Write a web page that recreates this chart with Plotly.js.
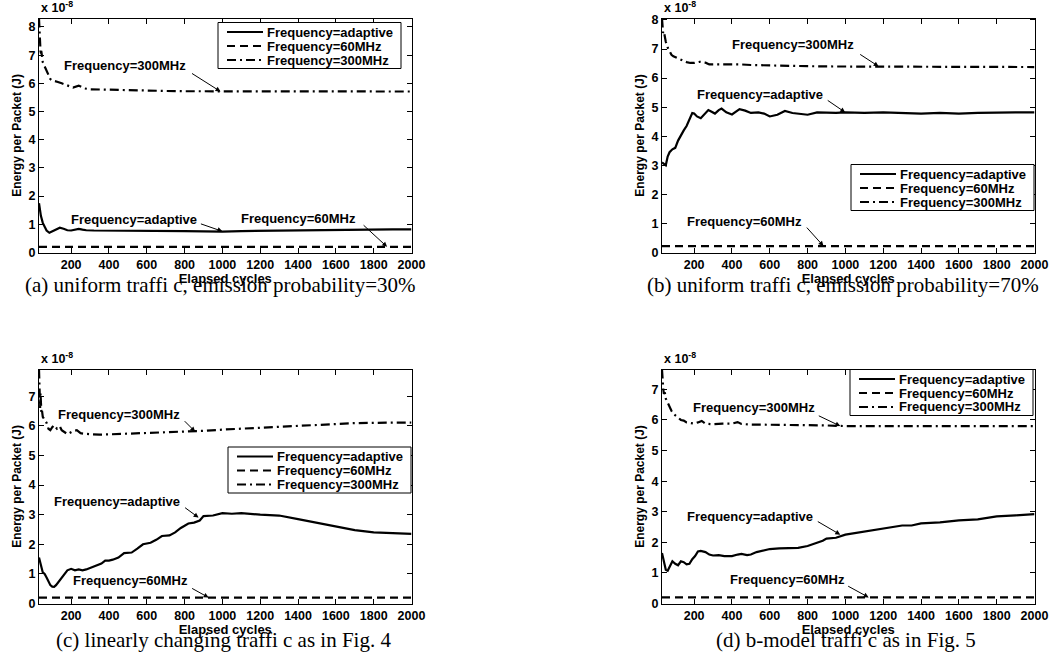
<!DOCTYPE html>
<html><head><meta charset="utf-8">
<script src="https://cdn.plot.ly/plotly-3.0.1.min.js"></script>
<style>html,body{margin:0;padding:0;background:#fff}#chart{width:1053px;height:652px}</style>
</head><body><div id="chart"></div>
<script>
// ---------- data (values ×1e-8 J) ----------
const xTicks = [200,400,600,800,1000,1200,1400,1600,1800,2000];
const seriesNames = ['Frequency=adaptive','Frequency=60MHz','Frequency=300MHz'];
const captions = ['(a) uniform traffi c, emission probability=30%','(b) uniform traffi c, emission probability=70%','(c) linearly changing traffi c as in Fig. 4','(d) b-model traffi c as in Fig. 5'];
const yMax = [8.3, 8.05, 7.9, 7.65];
const x60 = [30, 2000];
const y60 = [[0.2,0.2],[0.22,0.22],[0.2,0.2],[0.2,0.2]];

const aXAdapt = [30,35,40,50,60,70,85,100,120,140,160,180,200,220,240,260,280,320,360,400,450,500,550,600,700,800,900,1000,1100,1200,1300,1400,1500,1600,1700,1800,1900,2000];
const aYAdapt = [1.75,1.5,1.3,1.05,0.9,0.78,0.7,0.75,0.82,0.88,0.84,0.79,0.78,0.8,0.84,0.81,0.79,0.78,0.78,0.77,0.76,0.77,0.78,0.77,0.76,0.76,0.75,0.74,0.76,0.77,0.78,0.79,0.8,0.8,0.81,0.81,0.82,0.82];
const aX300 = [30,33,36,39,42,46,50,60,70,80,90,100,115,130,150,170,190,210,240,270,300,350,400,500,600,700,800,900,1000,1200,1400,1600,1800,2000];
const aY300 = [8.3,7.8,7.3,7.0,7.15,6.85,6.75,6.6,6.45,6.3,6.15,6.1,6.08,6.05,6.0,5.95,5.88,5.85,5.92,5.82,5.79,5.78,5.77,5.76,5.74,5.73,5.72,5.72,5.71,5.72,5.72,5.72,5.71,5.71];

const bXAdapt = [30,40,50,60,70,85,100,115,130,145,160,175,190,200,215,235,255,275,290,310,330,345,370,400,440,470,500,540,570,600,640,680,720,760,800,850,900,950,1000,1100,1200,1300,1400,1500,1600,1700,1800,1900,2000];
const bYAdapt = [3.1,3.05,3.0,3.3,3.45,3.55,3.6,3.85,4.05,4.2,4.35,4.6,4.8,4.78,4.68,4.62,4.75,4.9,4.85,4.78,4.9,4.95,4.82,4.75,4.93,4.88,4.8,4.82,4.78,4.68,4.74,4.87,4.8,4.78,4.74,4.82,4.8,4.8,4.82,4.8,4.82,4.8,4.78,4.8,4.78,4.8,4.82,4.82,4.82];
const bX300 = [30,33,36,40,45,50,60,70,80,90,100,120,140,160,180,200,230,260,280,300,350,400,450,500,600,700,800,900,1000,1200,1400,1600,1800,2000];
const bY300 = [8.05,7.7,7.55,7.6,7.35,7.25,7.05,6.9,6.8,6.75,6.72,6.68,6.62,6.55,6.52,6.52,6.56,6.53,6.47,6.47,6.47,6.48,6.47,6.45,6.43,6.42,6.41,6.4,6.4,6.4,6.4,6.39,6.38,6.38];

const cXAdapt = [30,35,40,50,60,70,80,90,100,110,120,140,160,180,200,220,240,260,280,300,330,360,380,400,420,450,480,520,550,580,620,650,680,720,750,780,820,850,880,900,950,1000,1050,1100,1200,1300,1400,1500,1600,1700,1800,1900,2000];
const cYAdapt = [1.55,1.45,1.3,1.05,1.0,0.88,0.75,0.62,0.57,0.56,0.62,0.78,0.95,1.12,1.17,1.12,1.15,1.12,1.15,1.2,1.3,1.35,1.45,1.45,1.48,1.55,1.7,1.72,1.85,2.0,2.05,2.15,2.28,2.3,2.4,2.55,2.7,2.73,2.8,2.95,2.97,3.05,3.03,3.05,3.0,2.97,2.85,2.72,2.6,2.48,2.4,2.37,2.35];
const cX300 = [30,32,34,36,38,40,43,46,50,55,60,70,80,90,100,110,125,140,150,165,180,190,210,230,250,270,300,350,400,450,500,600,700,800,900,1000,1100,1200,1300,1400,1500,1600,1700,1800,1900,2000];
const cY300 = [7.9,7.4,7.7,6.6,7.1,6.7,6.4,6.5,6.3,6.25,6.2,6.1,5.9,5.85,5.95,6.02,5.9,5.98,5.85,5.78,5.72,5.75,5.82,5.85,5.75,5.73,5.72,5.7,5.71,5.72,5.73,5.75,5.77,5.8,5.83,5.87,5.9,5.93,5.97,6.0,6.04,6.07,6.09,6.1,6.11,6.11];

const dXAdapt = [30,35,40,50,60,70,85,100,115,130,145,160,175,190,205,220,235,260,280,300,330,360,400,430,450,480,500,530,560,600,650,700,750,800,850,880,900,950,1000,1050,1100,1150,1200,1250,1300,1350,1400,1500,1600,1700,1800,1900,2000];
const dYAdapt = [1.65,1.5,1.35,1.1,1.07,1.2,1.38,1.3,1.25,1.38,1.35,1.28,1.3,1.45,1.55,1.7,1.72,1.68,1.6,1.57,1.58,1.55,1.55,1.6,1.62,1.58,1.6,1.68,1.72,1.78,1.8,1.8,1.82,1.88,1.98,2.05,2.12,2.15,2.25,2.3,2.35,2.38,2.45,2.5,2.55,2.55,2.62,2.65,2.72,2.75,2.85,2.88,2.92];
const dX300 = [30,32,34,37,40,45,50,60,70,80,90,100,115,130,145,160,180,200,220,240,260,300,350,400,430,450,500,600,700,800,900,1000,1200,1400,1600,1800,2000];
const dY300 = [7.65,7.3,7.5,7.0,6.85,6.9,6.7,6.55,6.45,6.3,6.2,6.15,6.1,6.0,5.98,5.92,5.9,5.88,5.92,5.97,5.88,5.86,5.88,5.88,5.93,5.87,5.85,5.85,5.83,5.83,5.82,5.8,5.8,5.8,5.8,5.8,5.8];

// arrow tips (data coords) per panel: [adaptive, 60MHz, 300MHz]
const arrowTipX = [[1000,1871,990],[999,884,1176],[874,927,856],[973,1123,973]];
const arrowTipY = [[0.75,0.2,5.71],[4.82,0.22,6.4],[2.9,0.2,5.8],[2.25,0.2,5.8]];

// ---------- layout geometry (pixels) ----------
const W = 1053, H = 652;
const FONT = 'Liberation Sans, Arial, sans-serif';
const SERIF = 'Liberation Serif, Times New Roman, serif';
const px = v => v / W, py = v => 1 - v / H;
const panels = [
  {xd:[39,411.5], yd:[18.5,252.5]},
  {xd:[662,1034.5], yd:[18.5,252.5]},
  {xd:[39,411.5], yd:[369.5,603.5]},
  {xd:[662,1034.5], yd:[369.5,603.5]}
];
const data = [
  {xa:aXAdapt, ya:aYAdapt, x3:aX300, y3:aY300},
  {xa:bXAdapt, ya:bYAdapt, x3:bX300, y3:bY300},
  {xa:cXAdapt, ya:cYAdapt, x3:cX300, y3:cY300},
  {xa:dXAdapt, ya:dYAdapt, x3:dX300, y3:dY300}
];
const dashes = ['solid','8px,5px','9px,4px,2px,4px'];
// legend boxes [left, top]
const legendPos = [[218,22.5],[851,164.5],[228,447],[850,369.5]];
// text label centers [adaptive, 60MHz, 300MHz] in px
const labelPos = [
  [[134,219.5],[298,218.5],[125,65.5]],
  [[760,94.5],[744,221.5],[793,44.5]],
  [[117,501.5],[130,580.5],[119,414.5]],
  [[750,516],[787,579],[754,407.5]]
];
// arrow tail offsets (px) relative to tip
const arrowOff = [
  [[-23,-8],[-25,-23],[-30,-19]],
  [[-19,-13],[-18,-20],[-20,-13]],
  [[-15,-11],[-18,-10],[-12,-12]],
  [[-24,-14],[-22,-12],[-23,-11]]
];
const captionPos = [[220,285],[843,285],[223,640],[846,640]];

const traces = [], annotations = [], shapes = [];
const layout = {
  width: W, height: H, margin:{l:0,r:0,t:0,b:0},
  paper_bgcolor:'#fff', plot_bgcolor:'#fff', showlegend:false,
  font:{family:FONT, color:'#000'}
};
panels.forEach((p, i) => {
  const n = i === 0 ? '' : String(i+1);
  const xk = 'xaxis'+n, yk = 'yaxis'+n;
  const xr = 'x'+n, yr = 'y'+n;
  const axCommon = {showline:true, linecolor:'#000', linewidth:1, mirror:'ticks', ticks:'inside',
    ticklen:5, tickcolor:'#000', tickwidth:1, showgrid:false, zeroline:false,
    tickfont:{family:FONT, size:12.5, weight:'bold', color:'#000'}};
  layout[xk] = Object.assign({}, axCommon, {domain:[px(p.xd[0]), px(p.xd[1])], anchor:yr,
    range:[30,2000], tickvals:xTicks, ticktext:xTicks.map(String),
    title:{text:'Elapsed cycles', font:{family:FONT,size:13,weight:'bold'}, standoff:0}});
  const yt = [];
  for (let k = 0; k <= Math.floor(yMax[i]); k++) yt.push(k);
  layout[yk] = Object.assign({}, axCommon, {domain:[py(p.yd[1]), py(p.yd[0])], anchor:xr,
    range:[0, yMax[i]], tickvals:yt, ticktext:yt.map(String),
    title:{text:'Energy per Packet (J)', font:{family:FONT,size:12,weight:'bold'}, standoff:4}});
  const d = data[i];
  const xs = [d.xa, x60, d.x3], ys = [d.ya, y60[i], d.y3];
  for (let s = 0; s < 3; s++) {
    traces.push({type:'scatter', mode:'lines', x:xs[s], y:ys[s], xaxis:xr, yaxis:yr,
      name:seriesNames[s], line:{color:'#000', width:2.2, dash:dashes[s]}, hoverinfo:'skip'});
    annotations.push({xref:'paper', yref:'paper', x:px(labelPos[i][s][0]), y:py(labelPos[i][s][1]),
      xanchor:'center', yanchor:'middle', text:seriesNames[s], showarrow:false,
      font:{family:FONT, size:13, weight:'bold', color:'#000'}});
    annotations.push({xref:xr, yref:yr, x:arrowTipX[i][s], y:arrowTipY[i][s], text:'',
      showarrow:true, arrowhead:2, arrowsize:1, arrowwidth:1, arrowcolor:'#000',
      ax:arrowOff[i][s][0], ay:arrowOff[i][s][1]});
  }
  // scale label
  annotations.push({xref:'paper', yref:'paper', x:px(p.xd[0]), y:py(p.yd[0]-1.5), xanchor:'left', yanchor:'bottom',
    text:'x 10<sup>-8</sup>', showarrow:false, font:{family:FONT, size:12.5, weight:'bold'}});
  // legend box
  const [lx, ly] = legendPos[i];
  shapes.push({type:'rect', xref:'paper', yref:'paper', x0:px(lx), x1:px(lx+183), y0:py(ly), y1:py(ly+46),
    line:{color:'#000', width:1}, fillcolor:'#fff', layer:'above'});
  for (let s = 0; s < 3; s++) {
    const yy = ly + 9.5 + s*14;
    shapes.push({type:'line', xref:'paper', yref:'paper', x0:px(lx+9), x1:px(lx+45), y0:py(yy), y1:py(yy),
      line:{color:'#000', width:2, dash:dashes[s]}, layer:'above'});
    annotations.push({xref:'paper', yref:'paper', x:px(lx+47), y:py(yy), xanchor:'left', yanchor:'middle',
      text:seriesNames[s], showarrow:false, font:{family:FONT, size:13, weight:'bold'}});
  }
  // caption
  annotations.push({xref:'paper', yref:'paper', x:px(captionPos[i][0]), y:py(captionPos[i][1]),
    xanchor:'center', yanchor:'middle', text:captions[i], showarrow:false,
    font:{family:SERIF, size:21, color:'#000'}});
});
layout.annotations = annotations;
layout.shapes = shapes;
Plotly.newPlot('chart', traces, layout, {staticPlot:true, displayModeBar:false});
</script></body></html>
